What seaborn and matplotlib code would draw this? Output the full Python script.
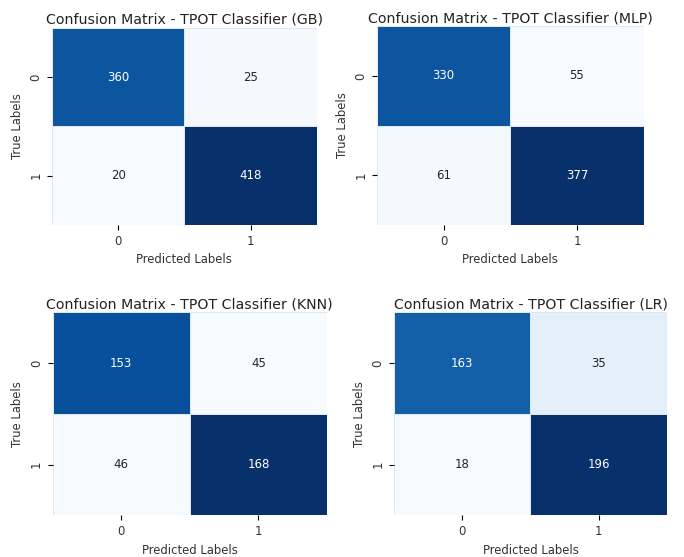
import matplotlib
matplotlib.use('Agg')
import matplotlib.pyplot as plt
import seaborn as sns
import numpy as np

# confusion matrices
labels = ['0', '1']
cm_gb = [[360, 25], [20, 418]]
cm_mlp = [[330, 55], [61, 377]]
cm_knn = [[153, 45], [46, 168]]
cm_lr = [[163, 35], [18, 196]]

models = ['GB', 'MLP', 'KNN', 'LR']
matrices = [cm_gb, cm_mlp, cm_knn, cm_lr]

# axes boxes (left, bottom, width, height) in figure fractions
boxes = [
    [0.076, 0.596, 0.387, 0.354],
    [0.551, 0.596, 0.390, 0.357],
    [0.077, 0.075, 0.401, 0.364],
    [0.576, 0.075, 0.399, 0.364],
]

fig = plt.figure(figsize=(6.84, 5.57), dpi=100)

for name, cm, box in zip(models, matrices, boxes):
    ax = fig.add_axes(box)
    sns.heatmap(np.array(cm), annot=True, fmt='d', cmap='Blues', cbar=False,
                linewidths=0.5, linecolor='#dde8f3',
                xticklabels=labels, yticklabels=labels,
                annot_kws={'fontsize': 8.5}, ax=ax)
    ax.set_title(f'Confusion Matrix - TPOT Classifier ({name})', fontsize=10.2,
                 pad=3, color='#222222')
    ax.set_xlabel('Predicted Labels', fontsize=8.4, color='#333333')
    ax.set_ylabel('True Labels', fontsize=8.4, color='#333333')
    ax.tick_params(labelsize=8.4, labelcolor='#333333')

plt.savefig('out.png', dpi=100)
